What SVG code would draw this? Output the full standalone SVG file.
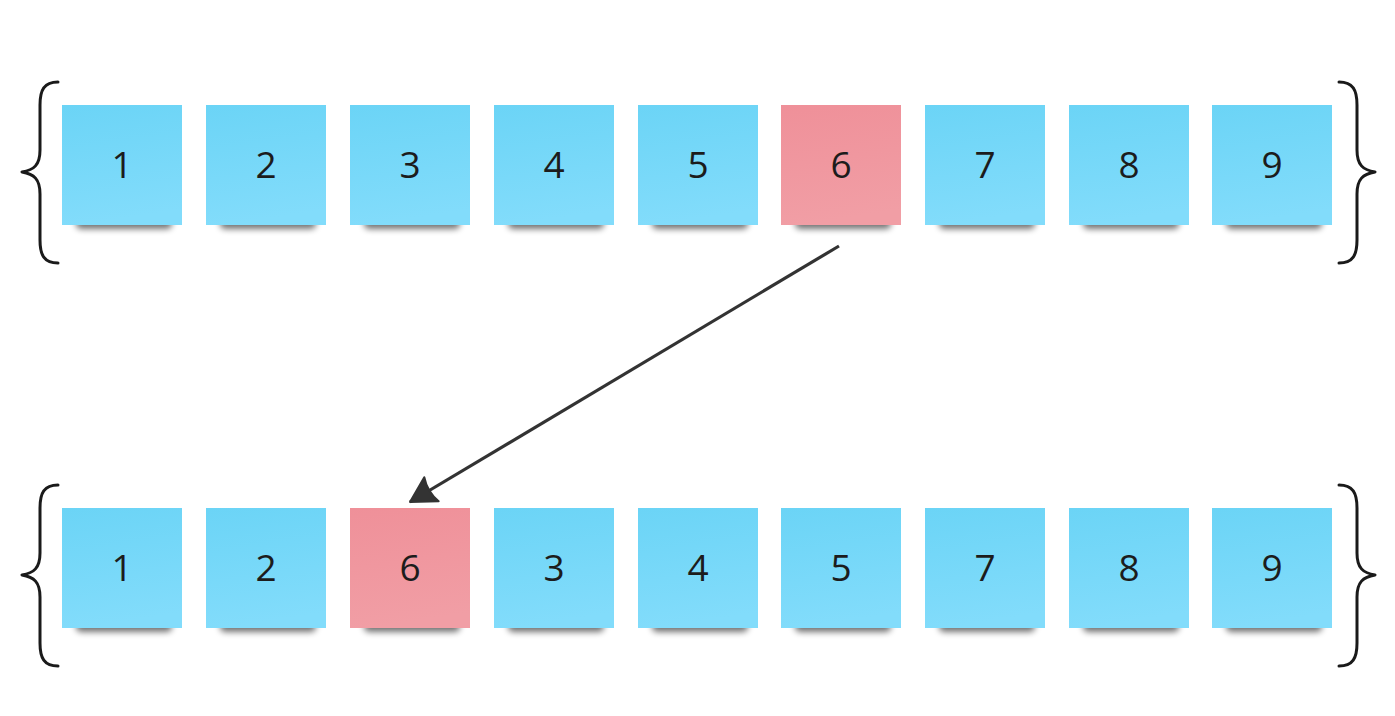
<svg xmlns="http://www.w3.org/2000/svg" width="1395" height="716" viewBox="0 0 1395 716">
<defs>
<style>
.lbl{font-family:"Open Sans","Noto Sans",sans-serif;font-size:37px;fill:#1c1c1c;text-anchor:middle}
.brace{fill:none;stroke:#1a1a1a;stroke-width:3;stroke-linecap:round;stroke-linejoin:round}
.conn{fill:none;stroke:#333333;stroke-width:3.2}
</style>
<linearGradient id="gb" x1="0" y1="0" x2="0.15" y2="1">
<stop offset="0" stop-color="#6bd4f6"/>
<stop offset="1" stop-color="#82dcfb"/>
</linearGradient>
<linearGradient id="gp" x1="0" y1="0" x2="0.15" y2="1">
<stop offset="0" stop-color="#ef9099"/>
<stop offset="1" stop-color="#f19ea5"/>
</linearGradient>
<filter id="sh" x="-20%" y="-100%" width="140%" height="300%">
<feGaussianBlur stdDeviation="3.2"/>
</filter>
<g id="shadow"><rect x="14" y="112" width="96" height="12" rx="5" fill="#000" opacity="0.55" filter="url(#sh)"/></g>
<marker id="ah" markerUnits="userSpaceOnUse" markerWidth="32" markerHeight="32" viewBox="-28 -16 32 32" refX="0" refY="0" orient="auto">
<path d="M0,0 L-25,-14 Q-20,0 -25,14 Z" fill="#333333" stroke="#333333" stroke-width="2" stroke-linejoin="round"/>
</marker>
</defs>
<rect width="1395" height="716" fill="#ffffff"/>

<g id="braces">
<path class="brace" d="M58,82 C44,82 40,90 40,105 L40,150 C40,165 34,170 22,172 C34,174 40,179 40,194 L40,240 C40,255 44,263 58,263"/>
<path class="brace" d="M1339,82 C1353,82 1357,90 1357,105 L1357,150 C1357,165 1363,170 1375,172 C1363,174 1357,179 1357,194 L1357,240 C1357,255 1353,263 1339,263"/>
<path class="brace" d="M58,485 C44,485 40,493 40,508 L40,553 C40,568 34,573 22,575 C34,577 40,582 40,597 L40,643 C40,658 44,666 58,666"/>
<path class="brace" d="M1339,485 C1353,485 1357,493 1357,508 L1357,553 C1357,568 1363,573 1375,575 C1363,577 1357,582 1357,597 L1357,643 C1357,658 1353,666 1339,666"/>
</g>

<g id="top-1" transform="translate(62,105)"><use href="#shadow"/><rect width="120" height="120" fill="url(#gb)"/><text class="lbl" x="60" y="73">1</text></g>
<g id="top-2" transform="translate(206,105)"><use href="#shadow"/><rect width="120" height="120" fill="url(#gb)"/><text class="lbl" x="60" y="73">2</text></g>
<g id="top-3" transform="translate(350,105)"><use href="#shadow"/><rect width="120" height="120" fill="url(#gb)"/><text class="lbl" x="60" y="73">3</text></g>
<g id="top-4" transform="translate(494,105)"><use href="#shadow"/><rect width="120" height="120" fill="url(#gb)"/><text class="lbl" x="60" y="73">4</text></g>
<g id="top-5" transform="translate(638,105)"><use href="#shadow"/><rect width="120" height="120" fill="url(#gb)"/><text class="lbl" x="60" y="73">5</text></g>
<g id="top-6" transform="translate(781,105)"><use href="#shadow"/><rect width="120" height="120" fill="url(#gp)"/><text class="lbl" x="60" y="73">6</text></g>
<g id="top-7" transform="translate(925,105)"><use href="#shadow"/><rect width="120" height="120" fill="url(#gb)"/><text class="lbl" x="60" y="73">7</text></g>
<g id="top-8" transform="translate(1069,105)"><use href="#shadow"/><rect width="120" height="120" fill="url(#gb)"/><text class="lbl" x="60" y="73">8</text></g>
<g id="top-9" transform="translate(1212,105)"><use href="#shadow"/><rect width="120" height="120" fill="url(#gb)"/><text class="lbl" x="60" y="73">9</text></g>

<g id="bot-1" transform="translate(62,508)"><use href="#shadow"/><rect width="120" height="120" fill="url(#gb)"/><text class="lbl" x="60" y="73">1</text></g>
<g id="bot-2" transform="translate(206,508)"><use href="#shadow"/><rect width="120" height="120" fill="url(#gb)"/><text class="lbl" x="60" y="73">2</text></g>
<g id="bot-6" transform="translate(350,508)"><use href="#shadow"/><rect width="120" height="120" fill="url(#gp)"/><text class="lbl" x="60" y="73">6</text></g>
<g id="bot-3" transform="translate(494,508)"><use href="#shadow"/><rect width="120" height="120" fill="url(#gb)"/><text class="lbl" x="60" y="73">3</text></g>
<g id="bot-4" transform="translate(638,508)"><use href="#shadow"/><rect width="120" height="120" fill="url(#gb)"/><text class="lbl" x="60" y="73">4</text></g>
<g id="bot-5" transform="translate(781,508)"><use href="#shadow"/><rect width="120" height="120" fill="url(#gb)"/><text class="lbl" x="60" y="73">5</text></g>
<g id="bot-7" transform="translate(925,508)"><use href="#shadow"/><rect width="120" height="120" fill="url(#gb)"/><text class="lbl" x="60" y="73">7</text></g>
<g id="bot-8" transform="translate(1069,508)"><use href="#shadow"/><rect width="120" height="120" fill="url(#gb)"/><text class="lbl" x="60" y="73">8</text></g>
<g id="bot-9" transform="translate(1212,508)"><use href="#shadow"/><rect width="120" height="120" fill="url(#gb)"/><text class="lbl" x="60" y="73">9</text></g>

<g id="connectors">
<line class="conn" x1="839" y1="246" x2="410" y2="502" marker-end="url(#ah)"/>
</g>
</svg>
